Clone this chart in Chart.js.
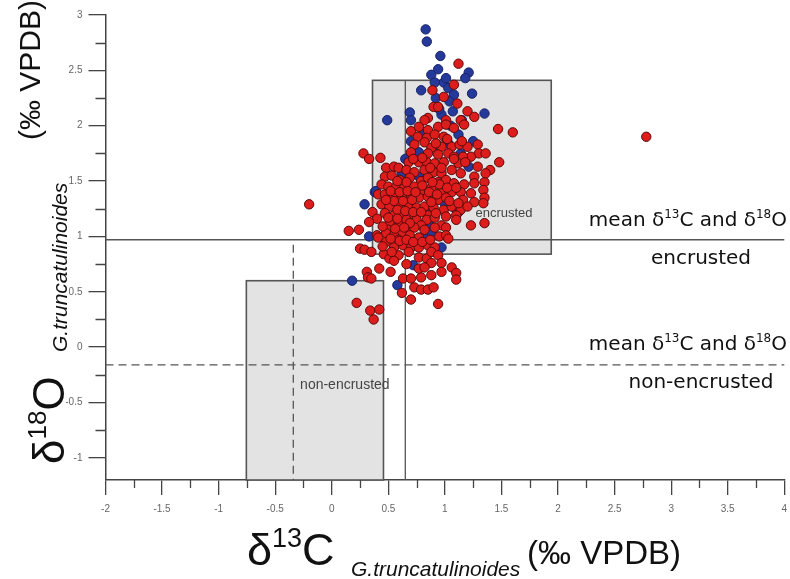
<!DOCTYPE html>
<html><head><meta charset="utf-8">
<script src="https://cdn.jsdelivr.net/npm/chart.js@4.4.0/dist/chart.umd.min.js"></script>
<style>html,body{margin:0;padding:0;background:#fff}#wrap{width:790px;height:579px;position:relative}</style>
</head><body><div id="wrap"><canvas id="c" width="790" height="579"></canvas></div>
<script>
// ---- data ----
const xTickValues = [-2,-1.5,-1,-0.5,0,0.5,1,1.5,2,2.5,3,3.5,4];
const yTickValues = [-1,-0.5,0,0.5,1,1.5,2,2.5,3];
const xRange = [-2, 4];
const yRange = [-1.2, 3];

// box ranges [xmin, xmax, ymin, ymax]
const boxEncrusted = [0.36, 1.94, 0.84, 2.41];
const boxNonEncrusted = [-0.755, 0.457, -1.2, 0.60];
// mean [d13C, d18O]
const meanEncrusted = [0.65, 0.97];
const meanNonEncrusted = [-0.34, -0.16];

const redPoints = [
[-0.20,1.29],[2.78,1.90],[1.60,1.94],[1.47,1.97],[1.48,1.67],[1.40,1.60],[1.12,2.56],[1.23,1.10],[1.35,1.12],
[0.89,2.32],[1.08,2.37],[0.99,2.26],[1.11,2.20],[0.90,2.17],[0.94,2.17],[1.20,2.13],[1.26,2.08],[0.85,2.07],[1.01,2.05],[1.14,2.05],[0.82,2.05],
[0.70,1.95],[0.77,1.99],[0.85,1.96],[0.94,1.99],[1.01,2.01],[1.08,1.98],[1.17,2.01],[0.76,1.90],[0.84,1.89],[0.91,1.92],[0.99,1.90],
[0.73,1.83],[0.82,1.85],[0.88,1.80],[0.97,1.81],[1.06,1.81],[1.13,1.83],[1.20,1.81],[1.29,1.83],[1.30,1.75],[1.36,1.75],[1.23,1.72],[1.16,1.72],
[0.70,1.76],[0.85,1.75],[0.94,1.74],[1.03,1.75],[1.08,1.72],[0.28,1.75],[0.33,1.70],[0.43,1.71],
[0.68,1.67],[0.77,1.67],[0.84,1.67],[0.91,1.66],[0.99,1.67],[1.12,1.66],[1.18,1.67],[1.29,1.63],[0.48,1.62],[0.55,1.63],
[0.59,1.62],[0.66,1.60],[0.73,1.58],[0.82,1.60],[0.90,1.58],[0.97,1.57],[1.06,1.60],[1.14,1.57],[1.26,1.54],[1.35,1.49],[1.36,1.57],
[0.47,1.54],[0.53,1.55],[0.60,1.51],[0.69,1.53],[0.79,1.50],[0.85,1.53],[0.94,1.49],[1.01,1.51],[1.08,1.48],[1.17,1.47],[1.26,1.48],[1.34,1.42],
[0.44,1.47],[0.50,1.45],[0.57,1.45],[0.64,1.44],[0.73,1.45],[0.81,1.42],[0.88,1.44],[0.97,1.42],[1.06,1.40],[1.14,1.40],[1.23,1.39],[1.35,1.35],
[0.41,1.38],[0.47,1.38],[0.55,1.36],[0.62,1.36],[0.70,1.38],[0.77,1.35],[0.85,1.36],[0.94,1.33],[1.01,1.35],[1.16,1.33],[1.26,1.31],[1.34,1.30],
[0.44,1.29],[0.51,1.27],[0.59,1.29],[0.68,1.27],[0.75,1.26],[0.82,1.27],[0.90,1.26],[0.99,1.24],[1.06,1.27],[1.14,1.24],[1.20,1.27],
[0.47,1.21],[0.55,1.19],[0.63,1.19],[0.73,1.18],[0.85,1.19],[1.01,1.18],[1.10,1.19],[0.36,1.22],[0.40,1.16],[0.33,1.13],[0.51,1.12],
[0.60,1.12],[0.66,1.15],[0.75,1.15],[0.84,1.15],[0.91,1.17],[1.10,1.15],[0.79,1.10],[0.97,1.10],[0.50,1.06],[0.48,1.03],
[0.68,1.06],[0.73,1.08],[0.82,1.06],[0.91,1.08],[1.01,1.08],[0.62,1.03],[0.55,1.01],[0.40,1.01],[0.41,0.99],[0.95,1.00],[1.01,1.01],[1.03,0.98],[0.69,1.01],[0.77,0.99],[0.59,0.97],[0.15,1.05],[0.24,1.06],
[0.48,0.95],[0.55,0.90],[0.63,0.92],[0.70,0.90],[0.77,0.90],[0.85,0.92],[0.91,0.90],[0.25,0.89],[0.29,0.88],[0.35,0.86],
[0.46,0.84],[0.51,0.80],[0.59,0.83],[0.68,0.86],[0.77,0.81],[0.84,0.80],[0.88,0.86],[0.94,0.83],[0.88,0.76],[0.97,0.76],
[0.42,0.71],[0.31,0.68],[0.32,0.63],[0.35,0.62],[0.52,0.68],[0.63,0.62],[0.70,0.62],[0.79,0.63],[0.88,0.65],[0.97,0.68],[1.06,0.72],[1.10,0.67],[1.10,0.61],[0.77,0.71],[0.82,0.72],[0.66,0.75],[0.55,0.78],
[0.73,0.54],[0.79,0.52],[0.85,0.52],[0.90,0.54],[0.62,0.49],[0.70,0.43],[0.94,0.39],
[0.22,0.40],[0.34,0.33],[0.42,0.34],[0.37,0.25],
[0.52,1.41],[0.60,1.40],[0.67,1.41],[0.55,1.32],[0.63,1.32],[0.71,1.33],[0.48,1.33],[0.58,1.24],[0.65,1.23],[0.72,1.22],[0.50,1.17],[0.58,1.16],[0.69,1.12],[0.45,1.09],[0.56,1.07],[0.64,1.08],[0.60,0.96],[0.66,0.97],[0.52,0.98],[0.45,0.91],[0.53,0.86],[0.72,0.95],[0.80,0.95],[0.87,0.97],[0.79,1.22],[0.88,1.31],[0.92,1.21],[0.95,1.47],[0.89,1.49],[0.80,1.46],[0.74,1.40],[0.66,1.49],[0.58,1.50],[0.86,1.40],[0.93,1.38],[1.02,1.44],[1.10,1.44],[1.04,1.32],[1.12,1.30],[0.97,1.62],[0.87,1.62],[0.80,1.71],[0.72,1.70],[0.92,1.84],[1.02,1.88],[1.15,1.86],[1.08,1.70]
];

const bluePoints = [
[0.83,2.87],[0.84,2.76],[0.96,2.63],[0.94,2.51],[0.88,2.46],[1.21,2.48],[1.18,2.43],[0.79,2.32],[1.24,2.29],[0.49,2.05],[1.35,2.11],[0.99,2.39],[1.03,2.34],[1.08,2.28],[0.91,2.39],[1.04,2.22],[0.97,2.10],[1.07,2.13],[0.69,2.12],[0.70,2.05],[0.95,2.15],[1.01,2.43],[0.82,1.94],[0.94,1.82],[1.03,1.84],[1.12,1.92],[1.25,1.86],[1.14,1.75],[1.21,1.63],[0.77,1.76],[0.70,1.86],[0.62,1.57],[0.77,1.54],[1.03,1.48],[0.38,1.40],[0.99,1.31],[1.10,1.24],[0.83,1.23],[0.29,1.29],[0.39,1.41],[0.33,1.00],[0.75,0.93],[0.81,1.00],[0.88,1.04],[0.97,0.90],[0.72,0.74],[0.58,0.56],[0.18,0.60],[0.59,1.09],[1.12,1.22],[0.65,1.70],[1.05,2.00],[0.60,1.45],[0.86,1.12],[1.15,2.05],[0.92,2.25]
];

// ---- drawing helpers ----
const SANS = '"Liberation Sans", Arial, sans-serif';
const DV = '"DejaVu Sans", sans-serif';
function drawRuns(ctx, runs, x, y) {
  let cx = x;
  for (const r of runs) {
    ctx.font = r.f;
    ctx.fillText(r.t, cx, y + (r.dy || 0));
    cx += ctx.measureText(r.t).width;
  }
  return cx;
}
function runsWidth(ctx, runs) {
  let w = 0;
  for (const r of runs) { ctx.font = r.f; w += ctx.measureText(r.t).width; }
  return w;
}

const overlayPlugin = {
  id: 'overlay',
  beforeDatasetsDraw(chart) {
    const ctx = chart.ctx, xs = chart.scales.x, ys = chart.scales.y;
    const X = v => xs.getPixelForValue(v), Y = v => ys.getPixelForValue(v);
    ctx.save();
    for (const b of [boxEncrusted, boxNonEncrusted]) {
      const x0 = X(b[0]), x1 = X(b[1]), y0 = Y(b[3]), y1 = Y(b[2]);
      ctx.fillStyle = '#e3e3e3';
      ctx.fillRect(x0, y0, x1 - x0, y1 - y0);
      ctx.strokeStyle = '#555';
      ctx.lineWidth = 1.6;
      ctx.strokeRect(x0, y0, x1 - x0, y1 - y0);
    }
    ctx.strokeStyle = '#555';
    ctx.lineWidth = 1.3;
    ctx.beginPath();
    ctx.moveTo(X(xRange[0]), Y(meanEncrusted[1]));
    ctx.lineTo(X(xRange[1]), Y(meanEncrusted[1]));
    ctx.moveTo(X(meanEncrusted[0]), Y(boxEncrusted[3]));
    ctx.lineTo(X(meanEncrusted[0]), Y(yRange[0]));
    ctx.stroke();
    ctx.setLineDash([8, 5]);
    ctx.beginPath();
    ctx.moveTo(X(xRange[0]), Y(meanNonEncrusted[1]));
    ctx.lineTo(X(xRange[1]), Y(meanNonEncrusted[1]));
    ctx.moveTo(X(meanNonEncrusted[0]), Y(0.925));
    ctx.lineTo(X(meanNonEncrusted[0]), Y(yRange[0]));
    ctx.stroke();
    ctx.setLineDash([]);
    ctx.fillStyle = '#444';
    ctx.font = '13px ' + SANS;
    ctx.textBaseline = 'alphabetic';
    ctx.fillText('encrusted', X(1.27), Y(1.18));
    ctx.font = '14px ' + SANS;
    ctx.fillText('non-encrusted', X(-0.28), Y(-0.38));
    ctx.restore();
  },
  afterDraw(chart) {
    const ctx = chart.ctx, xs = chart.scales.x, ys = chart.scales.y;
    ctx.save();
    // minor ticks
    ctx.strokeStyle = '#444';
    ctx.lineWidth = 1.3;
    ctx.beginPath();
    for (let i = 0; i < xTickValues.length - 1; i++) {
      const px = Math.round(xs.getPixelForValue((xTickValues[i] + xTickValues[i + 1]) / 2)) + 0.5;
      ctx.moveTo(px, xs.top); ctx.lineTo(px, xs.top + 8);
    }
    for (let i = 0; i < yTickValues.length - 1; i++) {
      const py = Math.round(ys.getPixelForValue((yTickValues[i] + yTickValues[i + 1]) / 2)) + 0.5;
      ctx.moveTo(ys.right, py); ctx.lineTo(ys.right - 10, py);
    }
    ctx.stroke();

    // right annotations
    ctx.fillStyle = '#111';
    ctx.textBaseline = 'alphabetic';
    const big = '20px ' + DV, sup = '12px ' + DV;
    const meanRuns = [
      {t: 'mean δ', f: big}, {t: '13', f: sup, dy: -8}, {t: 'C and δ', f: big},
      {t: '18', f: sup, dy: -8}, {t: 'O', f: big}
    ];
    const mw = runsWidth(ctx, meanRuns);
    drawRuns(ctx, meanRuns, 787 - mw, 226);
    drawRuns(ctx, meanRuns, 787 - mw, 350);
    ctx.font = big;
    ctx.textAlign = 'center';
    ctx.fillText('encrusted', 701, 264);
    ctx.fillText('non-encrusted', 701, 388);
    ctx.textAlign = 'left';

    // x axis title
    ctx.fillStyle = '#111';
    drawRuns(ctx, [{t: 'δ', f: '45px ' + SANS}, {t: '13', f: '27px ' + SANS, dy: -18}, {t: 'C', f: '45px ' + SANS}], 247, 565);
    drawRuns(ctx, [{t: 'G.truncatulinoides', f: 'italic 21px ' + SANS}], 351, 576);
    drawRuns(ctx, [{t: '(‰ VPDB)', f: '33px ' + SANS}], 527, 564);

    // y axis title (rotated)
    const rot = (bx, by, runs) => {
      ctx.save(); ctx.translate(bx, by); ctx.rotate(-Math.PI / 2);
      drawRuns(ctx, runs, 0, 0); ctx.restore();
    };
    rot(64, 464, [{t: 'δ', f: '44px ' + SANS}, {t: '18', f: '26px ' + SANS, dy: -18}, {t: 'O', f: '44px ' + SANS}]);
    rot(67, 352, [{t: 'G.truncatulinoides', f: 'italic 21px ' + SANS}]);
    rot(40, 140, [{t: '(‰ VPDB)', f: '30px ' + SANS}]);
    ctx.restore();
  }
};

const fmt = v => String(v);

new Chart(document.getElementById('c'), {
  type: 'scatter',
  data: {
    datasets: [
      {
        label: 'red',
        data: redPoints.map(p => ({x: p[0], y: p[1]})),
        backgroundColor: '#dd1c1c',
        borderColor: '#5a0a0a',
        borderWidth: 1,
        pointRadius: 4.7,
        pointHoverRadius: 4.7
      },
      {
        label: 'blue',
        data: bluePoints.map(p => ({x: p[0], y: p[1]})),
        backgroundColor: '#24399a',
        borderColor: '#1a2466',
        borderWidth: 1,
        pointRadius: 4.7,
        pointHoverRadius: 4.7
      }
    ]
  },
  options: {
    responsive: false,
    animation: false,
    devicePixelRatio: 1,
    layout: {padding: {left: 65.5, right: 4.5, top: 15, bottom: 59}},
    plugins: {legend: {display: false}, tooltip: {enabled: false}},
    scales: {
      x: {
        type: 'linear', min: xRange[0], max: xRange[1],
        afterBuildTicks: s => { s.ticks = xTickValues.map(v => ({value: v})); },
        afterFit: s => { s.height = 40; s.paddingLeft = 0; s.paddingRight = 0; },
        ticks: {callback: fmt, color: '#666', font: {family: SANS, size: 10}, padding: 8, maxRotation: 0, autoSkip: false},
        grid: {drawOnChartArea: false, drawTicks: true, tickLength: 15, color: '#444', lineWidth: 1.3},
        border: {display: true, color: '#444', width: 1.5}
      },
      y: {
        type: 'linear', min: yRange[0], max: yRange[1],
        afterBuildTicks: s => { s.ticks = yTickValues.map(v => ({value: v})); },
        afterFit: s => { s.width = 40; s.paddingTop = 0; s.paddingBottom = 0; },
        ticks: {callback: fmt, color: '#666', font: {family: SANS, size: 10}, padding: 6},
        grid: {drawOnChartArea: false, drawTicks: true, tickLength: 17, color: '#444', lineWidth: 1.3},
        border: {display: true, color: '#444', width: 1.5}
      }
    }
  },
  plugins: [overlayPlugin]
});
</script>
</body></html>
